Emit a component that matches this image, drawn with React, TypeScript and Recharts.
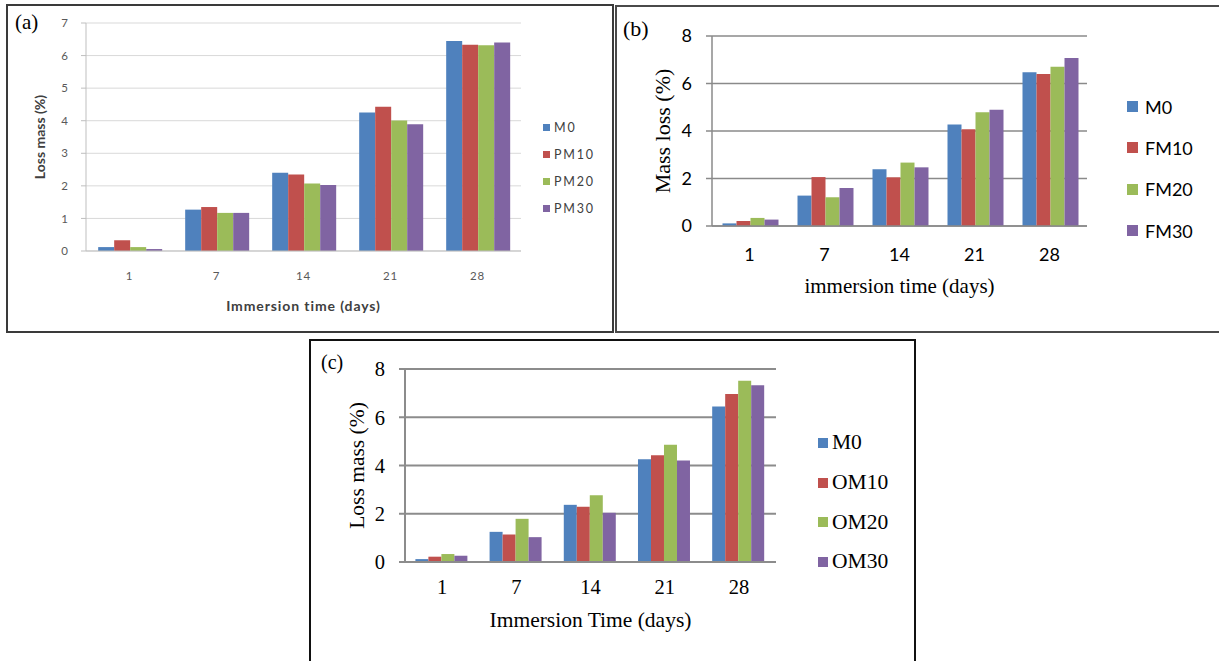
import React from 'react';
import { BarChart, Bar, XAxis, YAxis, CartesianGrid, Legend } from 'recharts';

const days = ['1', '7', '14', '21', '28'];

// (a) PM series
const m0A = [0.12, 1.27, 2.4, 4.25, 6.45];
const pm10 = [0.33, 1.35, 2.35, 4.43, 6.33];
const pm20 = [0.12, 1.17, 2.07, 4.01, 6.32];
const pm30 = [0.06, 1.17, 2.03, 3.89, 6.4];

// (b) FM series
const m0B = [0.11, 1.28, 2.39, 4.27, 6.47];
const fm10 = [0.21, 2.06, 2.05, 4.07, 6.4];
const fm20 = [0.34, 1.21, 2.67, 4.79, 6.71];
const fm30 = [0.27, 1.6, 2.47, 4.9, 7.07];

// (c) OM series
const m0C = [0.12, 1.25, 2.37, 4.26, 6.45];
const om10 = [0.22, 1.14, 2.29, 4.43, 6.96];
const om20 = [0.33, 1.79, 2.77, 4.86, 7.51];
const om30 = [0.26, 1.03, 2.04, 4.21, 7.33];

const namesA = ['M0', 'PM10', 'PM20', 'PM30'];
const namesB = ['M0', 'FM10', 'FM20', 'FM30'];
const namesC = ['M0', 'OM10', 'OM20', 'OM30'];

const ticksA = [0, 1, 2, 3, 4, 5, 6, 7];
const ticksBC = [0, 2, 4, 6, 8];

const colors = ['#4F81BD', '#C0504D', '#9BBB59', '#8064A2'];

const build = (names: string[], series: number[][]) =>
  days.map((d, i) => {
    const row: Record<string, any> = { day: d };
    names.forEach((n, k) => (row[n] = series[k][i]));
    return row;
  });

const dataA = build(namesA, [m0A, pm10, pm20, pm30]);
const dataB = build(namesB, [m0B, fm10, fm20, fm30]);
const dataC = build(namesC, [m0C, om10, om20, om30]);

const SANS = 'Lato, "Noto Sans", sans-serif';
const SERIF = '"Liberation Serif", "Times New Roman", serif';

// legend keeps the series order (recharts sorts by name otherwise)
const legendContent = (names: string[], row: number, box: number, gap: number, style: React.CSSProperties) =>
  (props: any) => {
    const items = [...(props.payload || [])].sort((a: any, b: any) => names.indexOf(a.value) - names.indexOf(b.value));
    return (
      <div style={style}>
        {items.map((p: any) => (
          <div key={p.value} style={{ height: row, display: 'flex', alignItems: 'center' }}>
            <span style={{ display: 'inline-block', width: box, height: box, background: p.color, marginRight: gap }} />
            {p.value}
          </div>
        ))}
      </div>
    );
  };

const frame = (left: number, top: number, width: number, height: number, color: string): React.CSSProperties => ({
  position: 'absolute', left, top, width, height, boxSizing: 'border-box', border: `2px solid ${color}`,
});

const tag = (left: number, top: number, size: number): React.CSSProperties => ({
  position: 'absolute', left, top, fontFamily: SERIF, fontSize: size, lineHeight: 1, color: '#000',
});

export default function App() {
  return (
    <div style={{ position: 'absolute', left: 0, top: 0, width: 1219, height: 661, overflow: 'hidden', background: '#fff' }}>
      <div style={frame(6, 4, 608, 329, '#3a3a3a')} />
      <div style={frame(615, 5, 608, 328, '#4a4a4a')} />
      <div style={frame(309, 339, 607, 330, '#111')} />

      {/* (a) */}
      <div style={{ position: 'absolute', left: 0, top: 0 }}>
        <BarChart width={613} height={332} data={dataA} margin={{ top: 23, right: 92, bottom: 0, left: 0 }}
          barCategoryGap="14%" barGap={0}>
          <CartesianGrid vertical={false} stroke="#d9d9d9" />
          <XAxis dataKey="day" height={81} tickLine={false} stroke="#bfbfbf" tickMargin={15}
            tick={{ fill: '#595959', fontSize: 11.5, fontFamily: SANS, letterSpacing: 0.8 }}
            label={{ value: 'Immersion time (days)', position: 'insideBottom', offset: 21,
              style: { fill: '#404040', fontSize: 14, fontWeight: 700, fontFamily: SANS, letterSpacing: 0.9 } }} />
          <YAxis width={86} domain={[0, 7]} ticks={ticksA} tickSize={5} tickMargin={13} stroke="#bfbfbf"
            tick={{ fill: '#595959', fontSize: 11.5, fontFamily: SANS }}
            label={{ value: 'Loss mass (%)', angle: -90, position: 'center', dx: -3,
              style: { fill: '#404040', fontSize: 14, fontWeight: 700, fontFamily: SANS } }} />
          <Legend layout="horizontal" verticalAlign="middle" align="center"
            wrapperStyle={{ left: 543, top: 114, width: 68 }}
            content={legendContent(namesA, 27, 7, 4,
              { fontFamily: SANS, fontSize: 12.5, color: '#404040', letterSpacing: 1.8 })} />
          {namesA.map((k, i) => (
            <Bar key={k} dataKey={k} fill={colors[i]} isAnimationActive={false} />
          ))}
        </BarChart>
      </div>
      <div style={tag(15, 12, 21)}>(a)</div>

      {/* (b) */}
      <div style={{ position: 'absolute', left: 616, top: 0 }}>
        <BarChart width={603} height={332} data={dataB} margin={{ top: 36, right: 132, bottom: 0, left: 0 }}
          barCategoryGap="14%" barGap={0}>
          <CartesianGrid vertical={false} stroke="#8a8a8a" strokeWidth={1.5} />
          <XAxis dataKey="day" height={106} tickLine={false} stroke="#8a8a8a" strokeWidth={1.5} tickMargin={16}
            tick={{ fill: '#000', fontSize: 18, fontFamily: SANS }}
            label={{ value: 'immersion time (days)', position: 'insideBottom', offset: 39,
              style: { fill: '#000', fontSize: 21, fontFamily: SERIF } }} />
          <YAxis width={96} domain={[0, 8]} ticks={ticksBC} tickSize={6} tickMargin={14} stroke="#8a8a8a" strokeWidth={1.5}
            tick={{ fill: '#000', fontSize: 18, fontFamily: SANS }}
            label={{ value: 'Mass loss (%)', angle: -90, position: 'center', dx: -2,
              style: { fill: '#000', fontSize: 22, fontFamily: SERIF } }} />
          <Legend layout="horizontal" verticalAlign="middle" align="center"
            wrapperStyle={{ left: 511, top: 86, width: 90 }}
            content={legendContent(namesB, 41.3, 11, 7, { fontFamily: SANS, fontSize: 18, color: '#000' })} />
          {namesB.map((k, i) => (
            <Bar key={k} dataKey={k} fill={colors[i]} isAnimationActive={false} />
          ))}
        </BarChart>
      </div>
      <div style={tag(623, 18, 22)}>(b)</div>

      {/* (c) */}
      <div style={{ position: 'absolute', left: 310, top: 340 }}>
        <BarChart width={604} height={321} data={dataC} margin={{ top: 29, right: 138, bottom: 0, left: 0 }}
          barCategoryGap="14%" barGap={0}>
          <CartesianGrid vertical={false} stroke="#8c8c8c" strokeWidth={2} />
          <XAxis dataKey="day" height={99} tickLine={false} stroke="#8c8c8c" strokeWidth={2} tickMargin={11}
            tick={{ fill: '#000', fontSize: 20.5, fontFamily: SERIF }}
            label={{ value: 'Immersion Time (days)', position: 'insideBottom', offset: 34,
              style: { fill: '#000', fontSize: 21.5, fontFamily: SERIF } }} />
          <YAxis width={95} domain={[0, 8]} ticks={ticksBC} tickSize={6} tickMargin={14} stroke="#8c8c8c" strokeWidth={2}
            tick={{ fill: '#000', fontSize: 20.5, fontFamily: SERIF }}
            label={{ value: 'Loss mass (%)', angle: -90, position: 'center', dx: -1.5,
              style: { fill: '#000', fontSize: 21.5, fontFamily: SERIF } }} />
          <Legend layout="horizontal" verticalAlign="middle" align="center"
            wrapperStyle={{ left: 508, top: 83, width: 95 }}
            content={legendContent(namesC, 39.7, 10, 4, { fontFamily: SERIF, fontSize: 21.5, color: '#000' })} />
          {namesC.map((k, i) => (
            <Bar key={k} dataKey={k} fill={colors[i]} isAnimationActive={false} />
          ))}
        </BarChart>
      </div>
      <div style={tag(321, 352, 20)}>(c)</div>
    </div>
  );
}
